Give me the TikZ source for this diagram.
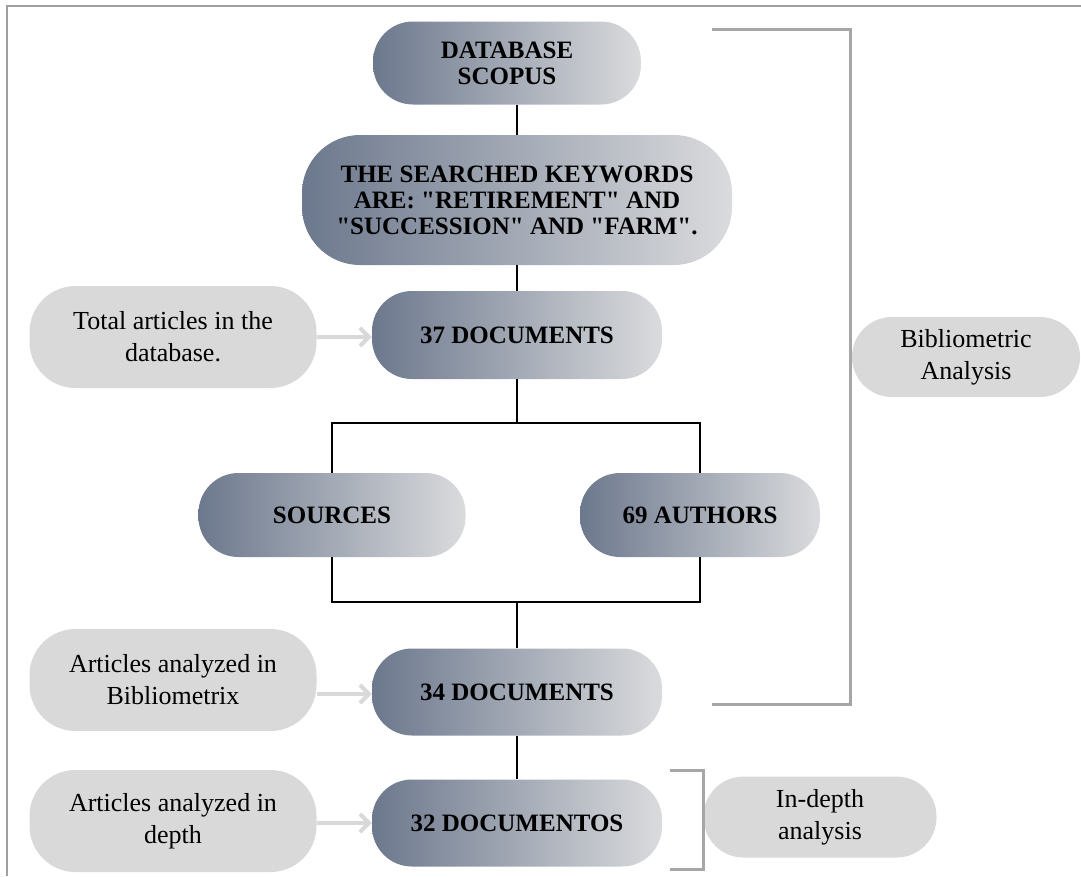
\documentclass[tikz,border=0pt]{standalone}
\usepackage{fontspec}
\setmainfont{Liberation Serif}[Ligatures=TeXOff]
\usepackage{tikz}
\usetikzlibrary{positioning, calc, arrows.meta}

\definecolor{slate}{RGB}{108,120,141}
\definecolor{pale}{RGB}{218,219,221}
\definecolor{boxgray}{RGB}{217,217,217}
\definecolor{brackgray}{RGB}{166,166,166}
\definecolor{framegray}{RGB}{160,160,160}

\tikzset{
  darkpill/.style={rectangle, rounded corners=40pt, left color=slate, right color=pale,
    minimum width=290pt, minimum height=88pt, align=center,
    font=\fontsize{25}{26}\selectfont\bfseries},
  lightpill/.style={rectangle, rounded corners=46pt, fill=boxgray,
    minimum width=287pt, minimum height=102pt, align=center,
    font=\fontsize{26}{32}\selectfont},
  link/.style={line width=2.8pt, black},
  feed/.style={line width=4pt, boxgray, -{Straight Barb[length=9pt,width=18pt]}},
  brack/.style={line width=3pt, brackgray},
}

\begin{document}
\begin{tikzpicture}[x=1pt,y=-1pt]
\useasboundingbox (0,0) rectangle (1081,876);
% frame
\draw[line width=2.5pt, framegray] (1081,6) -- (7,6) -- (7,876);

% main column
\node[darkpill, minimum width=268pt, minimum height=83pt] (db) at (507,63) {DATABASE\\SCOPUS};
\node[darkpill, minimum width=430pt, minimum height=130pt, rounded corners=58pt] (kw) at (517,200)
  {THE SEARCHED KEYWORDS\\ARE: "RETIREMENT" AND\\"SUCCESSION" AND "FARM".};
\node[darkpill] (d37) at (517,335) {37 DOCUMENTS};
\node[darkpill, minimum width=267pt, minimum height=84pt] (src) at (332,515) {SOURCES};
\node[darkpill, minimum width=240pt, minimum height=84pt] (aut) at (700,515) {69 AUTHORS};
\node[darkpill, minimum height=87pt] (d34) at (517,692) {34 DOCUMENTS};
\node[darkpill, minimum height=87pt] (d32) at (517,823) {32 DOCUMENTOS};

% notes on the left
\node[lightpill] (tot) at (173,337) {Total articles in the\\database.};
\node[lightpill] (bib) at (173,680) {Articles analyzed in\\Bibliometrix};
\node[lightpill] (dep) at (173,821) {Articles analyzed in\\depth};

% notes on the right
\node[lightpill, minimum width=228pt, minimum height=80pt, rounded corners=40pt] (biblio) at (966,357) {Bibliometric\\Analysis};
\node[lightpill, minimum width=233pt, minimum height=81pt, rounded corners=40pt] (ind) at (820,817) {In-depth\\analysis};

% connectors
\coordinate (split) at (517,423);
\coordinate (merge) at (517,602);
\draw[link] (db.south -| kw.north) -- (kw.north);
\draw[link] (kw) -- (d37);
\draw[link] (d37.south) -- (split);
\draw[link] (src.north) |- (split) -| (aut.north);
\draw[link] (src.south) |- (merge) -| (aut.south);
\draw[link] (merge) -- (d34.north);
\draw[link] (d34) -- (d32);

\draw[feed] (tot.east) -- (tot.east -| d37.west);
\draw[feed] ([yshift=-14pt]bib.east) -- ([yshift=-14pt]bib.east -| d34.west);
\draw[feed] ([yshift=-2pt]dep.east) -- ([yshift=-2pt]dep.east -| d32.west);

% brackets
\draw[brack] (712,29) -| (850,704) -- (712,704);
\draw[brack] (670,770) -| (703,869) -- (670,869);
\end{tikzpicture}
\end{document}
